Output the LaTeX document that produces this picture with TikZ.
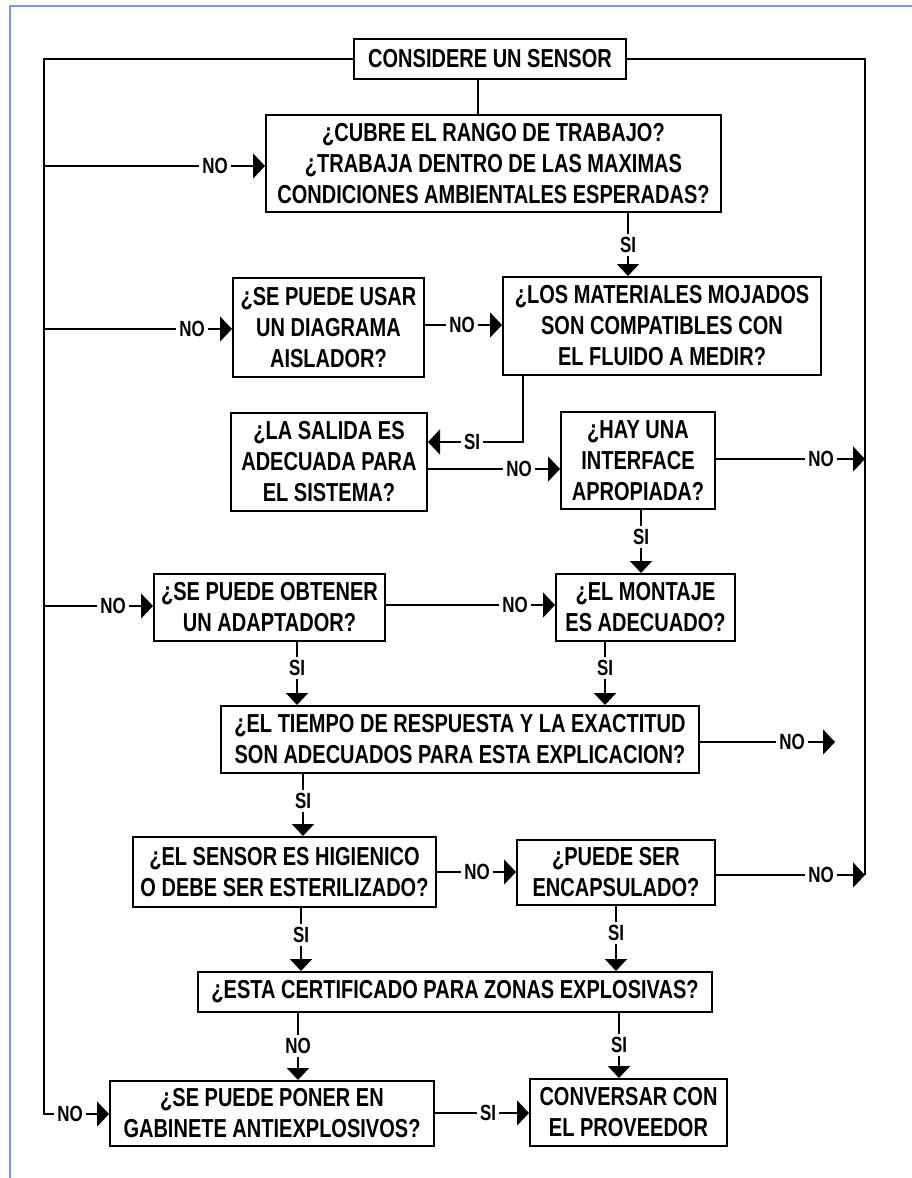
\documentclass[tikz,border=0pt]{standalone}
\usepackage{fontspec}
\usepackage{tikz}
\usetikzlibrary{arrows.meta}
\newfontfamily\flowfont[FakeStretch=0.77]{Liberation Sans}
\definecolor{marco}{RGB}{120,150,235}

\begin{document}
\begin{tikzpicture}[x=1pt, y=-1pt, line width=2pt,
	caja/.style={draw, align=center, inner sep=3pt, font={\flowfont\bfseries\fontsize{26}{31}\selectfont}},
	etiq/.style={inner sep=2pt, font={\flowfont\bfseries\fontsize{22}{22}\selectfont}},
	flecha/.style={-{Triangle[length=12pt, width=25pt]}},
	bajada/.style={-{Triangle[length=12pt, width=22pt]}}]
			%%%%% START %%%%%
			
			\useasboundingbox (0, 0) rectangle (912, 1178);
			\draw[line width=1.5pt, color=marco] (10, 1178) -- (10, 6) -- (912, 6);
			
			\node[caja, minimum width=272, minimum height=40] (cons) at (490, 59) {CONSIDERE UN SENSOR};
			\node[caja, minimum width=455, minimum height=97] (rango) at (493.5, 163.5) {¿CUBRE EL RANGO DE TRABAJO?\\¿TRABAJA DENTRO DE LAS MAXIMAS\\CONDICIONES AMBIENTALES ESPERADAS?};
			\node[caja, minimum width=191, minimum height=99] (aislador) at (328.5, 327.5) {¿SE PUEDE USAR\\UN DIAGRAMA\\AISLADOR?};
			\node[caja, minimum width=318, minimum height=98] (materiales) at (662, 326) {¿LOS MATERIALES MOJADOS\\SON COMPATIBLES CON\\EL FLUIDO A MEDIR?};
			\node[caja, minimum width=196, minimum height=98] (salida) at (329, 462) {¿LA SALIDA ES\\ADECUADA PARA\\EL SISTEMA?};
			\node[caja, minimum width=154, minimum height=97] (interfase) at (638, 460.5) {¿HAY UNA\\INTERFACE\\APROPIADA?};
			\node[caja, minimum width=231, minimum height=67] (adaptador) at (269.5, 607.5) {¿SE PUEDE OBTENER\\UN ADAPTADOR?};
			\node[caja, minimum width=179, minimum height=67] (montaje) at (645.5, 607.5) {¿EL MONTAJE\\ES ADECUADO?};
			\node[caja, minimum width=478, minimum height=67] (tiempo) at (460, 739.5) {¿EL TIEMPO DE RESPUESTA Y LA EXACTITUD\\SON ADECUADOS PARA ESTA EXPLICACION?};
			\node[caja, minimum width=303, minimum height=70] (higienico) at (284.5, 872) {¿EL SENSOR ES HIGIENICO\\O DEBE SER ESTERILIZADO?};
			\node[caja, minimum width=198, minimum height=65] (encaps) at (616, 872.5) {¿PUEDE SER\\ENCAPSULADO?};
			\node[caja, minimum width=514, minimum height=40] (certif) at (455, 992) {¿ESTA CERTIFICADO PARA ZONAS EXPLOSIVAS?};
			\node[caja, minimum width=324, minimum height=65] (gabinete) at (272, 1113.5) {¿SE PUEDE PONER EN\\GABINETE ANTIEXPLOSIVOS?};
			\node[caja, minimum width=197, minimum height=67] (proveedor) at (628.5, 1112.5) {CONVERSAR CON\\EL PROVEEDOR};
			
			% lazos de retorno
			\coordinate (izq) at (44, 59);
			\coordinate (izqb) at (44, 1114);
			\coordinate (der) at (865, 59);
			\coordinate (derb) at (865, 875);
			\coordinate (codo) at (523, 442);
			\coordinate (fin) at (835, 742);
			
			\node[etiq] (nR) at (215, 166) {NO};
			\node[etiq] (nA) at (192, 329) {NO};
			\node[etiq] (nAd) at (113, 606) {NO};
			\node[etiq] (nG) at (70, 1114) {NO};
			\node[etiq] (nA2) at (462, 325) {NO};
			\node[etiq] (nS2) at (519, 469) {NO};
			\node[etiq] (nI) at (821, 459) {NO};
			\node[etiq] (nM) at (515, 605) {NO};
			\node[etiq] (nT) at (792, 742) {NO};
			\node[etiq] (nH) at (477, 872) {NO};
			\node[etiq] (nE) at (821, 875) {NO};
			\node[etiq] (n8) at (298, 1046) {NO};
			\node[etiq] (nS) at (472, 442) {SI};
			\node[etiq] (sG) at (488, 1113) {SI};
			\node[etiq] (s1) at (628, 245) {SI};
			\node[etiq] (s2) at (641, 537) {SI};
			\node[etiq] (s3) at (297, 668) {SI};
			\node[etiq] (s4) at (605, 668) {SI};
			\node[etiq] (s5) at (303, 801) {SI};
			\node[etiq] (s6) at (301, 935) {SI};
			\node[etiq] (s7) at (616, 933) {SI};
			\node[etiq] (s9) at (619, 1045) {SI};
			
			\draw (cons.west) -| (izqb) -- (nG);
			\draw[flecha] (nG) -- (nG -| gabinete.west);
			\draw (cons.east) -| (derb);
			\draw ([xshift=-12pt]cons.south) -- ([xshift=-12pt]cons.south |- rango.north);
			
			% entradas desde la izquierda
			\draw (izq |- nR) -- (nR);
			\draw[flecha] (nR) -- (nR -| rango.west);
			\draw (izq |- nA) -- (nA);
			\draw[flecha] (nA) -- (nA -| aislador.west);
			\draw (izq |- nAd) -- (nAd);
			\draw[flecha] (nAd) -- (nAd -| adaptador.west);
			
			% salidas hacia la derecha
			\draw (interfase.east |- nI) -- (nI);
			\draw[flecha] (nI) -- (nI -| der);
			\draw (encaps.east |- nE) -- (nE);
			\draw[flecha] (nE) -- (nE -| der);
			\draw (tiempo.east |- nT) -- (nT);
			\draw[flecha] (nT) -- (fin);
			
			% horizontales
			\draw (aislador.east |- nA2) -- (nA2);
			\draw[flecha] (nA2) -- (nA2 -| materiales.west);
			\draw (materiales.south -| codo) -- (codo) -- (nS);
			\draw[flecha] (nS) -- (nS -| salida.east);
			\draw (salida.east |- nS2) -- (nS2);
			\draw[flecha] (nS2) -- (nS2 -| interfase.west);
			\draw (adaptador.east |- nM) -- (nM);
			\draw[flecha] (nM) -- (nM -| montaje.west);
			\draw (higienico.east |- nH) -- (nH);
			\draw[flecha] (nH) -- (nH -| encaps.west);
			\draw (gabinete.east |- sG) -- (sG);
			\draw[flecha] (sG) -- (sG -| proveedor.west);
			
			% verticales
			\draw (rango.south -| s1) -- (s1);
			\draw[bajada] (s1) -- (s1 |- materiales.north);
			\draw (interfase.south -| s2) -- (s2);
			\draw[bajada] (s2) -- (s2 |- montaje.north);
			\draw (adaptador.south -| s3) -- (s3);
			\draw[bajada] (s3) -- (s3 |- tiempo.north);
			\draw (montaje.south -| s4) -- (s4);
			\draw[bajada] (s4) -- (s4 |- tiempo.north);
			\draw (tiempo.south -| s5) -- (s5);
			\draw[bajada] (s5) -- (s5 |- higienico.north);
			\draw (higienico.south -| s6) -- (s6);
			\draw[bajada] (s6) -- (s6 |- certif.north);
			\draw (encaps.south -| s7) -- (s7);
			\draw[bajada] (s7) -- (s7 |- certif.north);
			\draw (certif.south -| n8) -- (n8);
			\draw[bajada] (n8) -- (n8 |- gabinete.north);
			\draw (certif.south -| s9) -- (s9);
			\draw[bajada] (s9) -- (s9 |- proveedor.north);
			
			%%%%% END %%%%%
\end{tikzpicture}
\end{document}
